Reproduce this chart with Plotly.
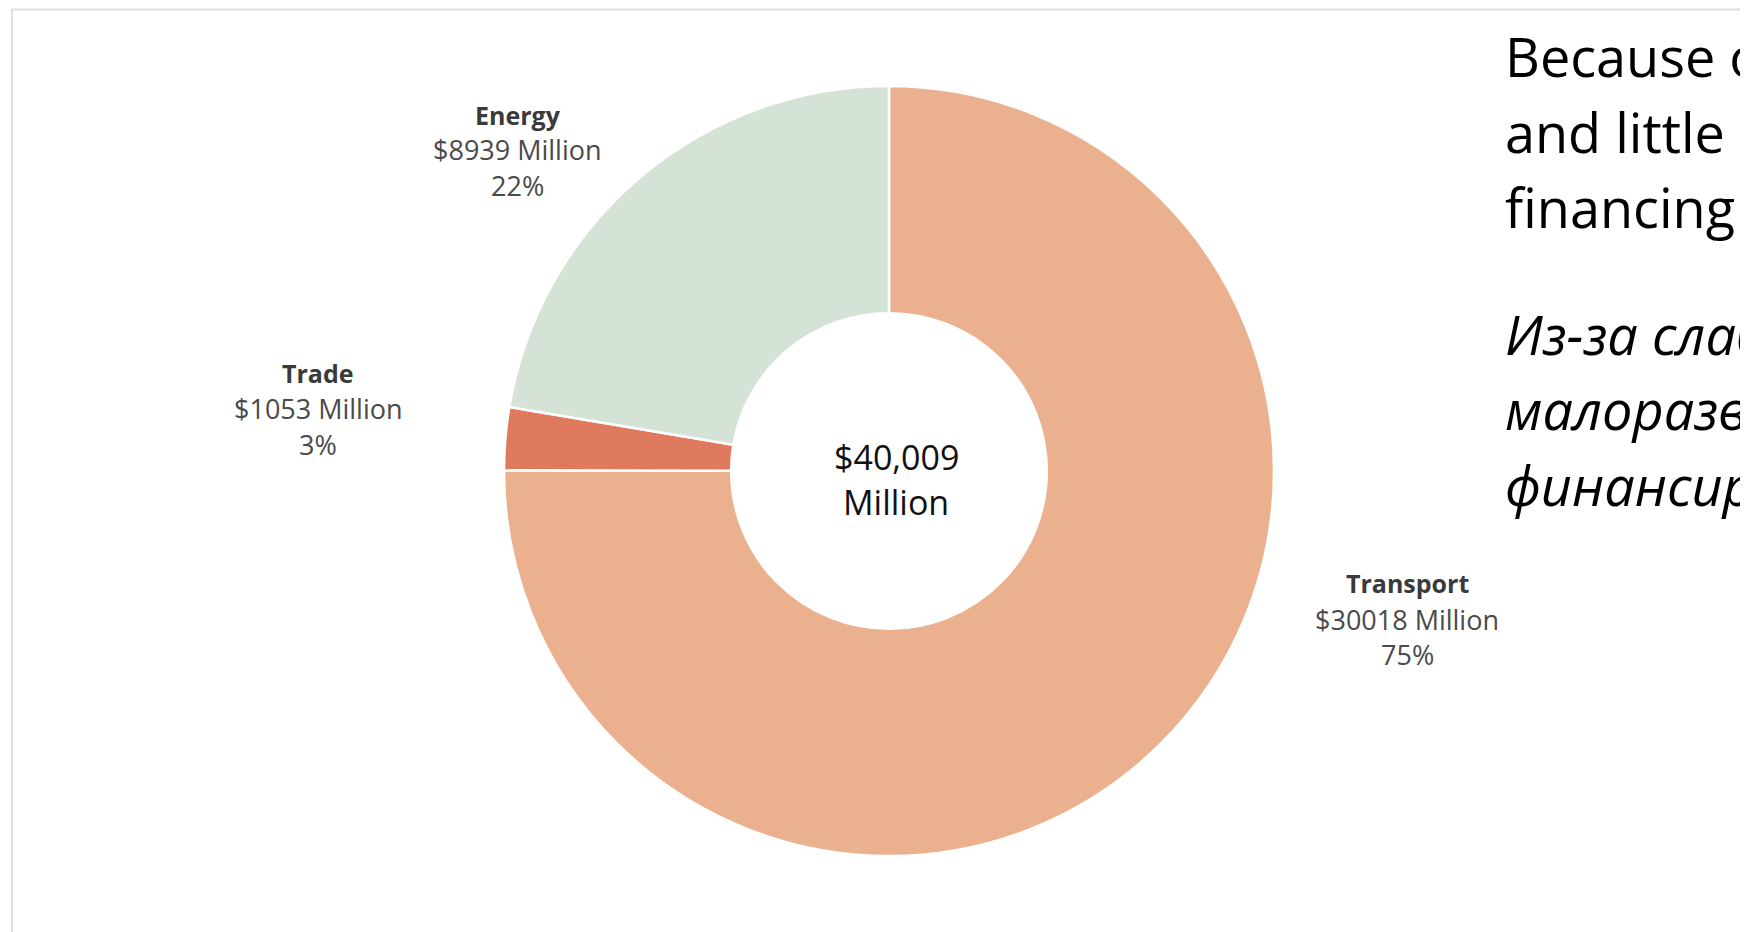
import plotly.graph_objects as go

# ---- data ----
categories = ["Transport", "Trade", "Energy"]
values = [30018, 1053, 8939]
colors = ["#EBB18F", "#E07A5F", "#D4E3D6"]
total_label = "$40,009"
total_unit = "Million"
side_text_en = ["Because of", "and little", "financing"]
side_text_ru = ["Из-за слабой", "малоразвитой", "финансирования"]

# figure size (page body keeps an 8px default margin)
OFF = 8
W, H = 1748 - OFF, 932 - OFF


def px_x(x):
    """page pixel x -> paper fraction"""
    return (x - OFF) / W


def px_y(y):
    """page pixel y (from top) -> paper fraction"""
    return 1 - (y - OFF) / H


fig = go.Figure()

# pie geometry (page pixels)
cx, cy, r = 889, 471, 385
fig.add_trace(go.Pie(
    labels=categories,
    values=values,
    sort=False,
    direction="clockwise",
    rotation=0,
    hole=0.41,
    marker=dict(colors=colors, line=dict(color="white", width=2.5)),
    textinfo="none",
    hoverinfo="label+value+percent",
    domain=dict(x=[px_x(cx - r), px_x(cx + r)], y=[px_y(cy + r), px_y(cy - r)]),
    showlegend=False,
))

total = sum(values)
# label positions (page-pixel centres of the three lines)
label_pos = {
    "Energy": (518, [115, 150, 185]),
    "Trade": (318, [373, 409, 444]),
    "Transport": (1407, [583, 619, 654]),
}
FONT = "Open Sans, Noto Sans, sans-serif"
for cat, val in zip(categories, values):
    x, ys = label_pos[cat]
    pct = round(val / total * 100)
    lines = [
        (f"<b>{cat}</b>", "#3a3a3a", 25),
        (f"${val} Million", "#4a4a4a", 27),
        (f"{pct}%", "#4a4a4a", 27),
    ]
    for (txt, col, sz), y in zip(lines, ys):
        fig.add_annotation(
            x=px_x(x), y=px_y(y), xref="paper", yref="paper",
            text=txt, showarrow=False, xanchor="center", yanchor="middle",
            font=dict(family=FONT, size=sz, color=col),
        )

# centre text
for txt, y in zip([total_label, total_unit], [457, 502]):
    fig.add_annotation(
        x=px_x(896), y=px_y(y), xref="paper", yref="paper",
        text=txt, showarrow=False, xanchor="center", yanchor="middle",
        font=dict(family=FONT, size=34, color="#111111"),
    )

# side text
for txt, y in zip(side_text_en, [56, 132, 207]):
    fig.add_annotation(
        x=px_x(1503), y=px_y(y), xref="paper", yref="paper",
        text=txt, showarrow=False, xanchor="left", yanchor="middle",
        font=dict(family=FONT, size=54, color="#000000"),
    )
for txt, y in zip(side_text_ru, [334, 409, 485]):
    fig.add_annotation(
        x=px_x(1503), y=px_y(y), xref="paper", yref="paper",
        text=f"<i>{txt}</i>", showarrow=False, xanchor="left", yanchor="middle",
        font=dict(family=FONT, size=54, color="#000000"),
    )

# light frame (top edge as high as the figure allows)
fig.add_shape(
    type="rect", xref="paper", yref="paper",
    x0=px_x(12), x1=1.05, y0=-0.05, y1=px_y(OFF + 1.5),
    line=dict(color="#dedede", width=2), fillcolor="rgba(0,0,0,0)",
)

fig.update_layout(
    width=W, height=H,
    margin=dict(l=0, r=0, t=0, b=0),
    paper_bgcolor="white", plot_bgcolor="white",
)

fig.write_html("out.html")
